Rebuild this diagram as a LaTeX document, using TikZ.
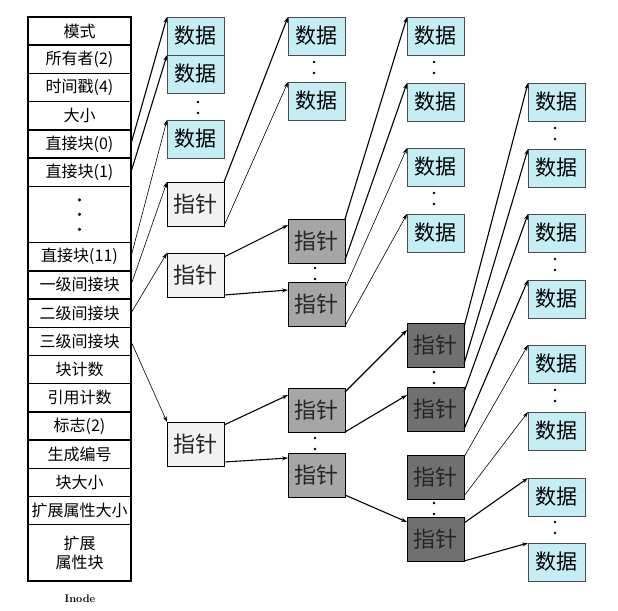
\documentclass[tikz,border=0pt]{standalone}
\usepackage{fontspec}
\newfontfamily\cjk{Noto Sans CJK SC}
\usepackage{tikz}
\usetikzlibrary{positioning,arrows.meta}
\definecolor{datacyan}{HTML}{C4EEF4}
\definecolor{ptrlight}{HTML}{F2F2F2}
\definecolor{ptrmid}{HTML}{A6A6A6}
\definecolor{ptrdark}{HTML}{707070}

\begin{document}
\begin{tikzpicture}[x=1pt, y=-1pt,
  every node/.style={font=\cjk, outer sep=0pt},
  inrow/.style={draw, line width=1.4pt, minimum width=103pt, minimum height=28.2pt,
                inner sep=0pt, align=center, font=\cjk\fontsize{16}{19}\selectfont},
  databox/.style={draw=black!70, fill=datacyan, minimum width=57pt, minimum height=38pt,
                  inner sep=0pt, anchor=north west, font=\cjk\fontsize{21}{21}\selectfont},
  ptrbox/.style={draw, fill=#1, minimum width=57pt, minimum height=44pt, inner sep=0pt,
                 anchor=north west, text=black!85, font=\cjk\fontsize{22}{22}\selectfont},
  arr/.style={-{Stealth[length=6pt,width=4pt]}, line width=1.1pt},
  tarr/.style={-{Stealth[length=6pt,width=4pt]}, line width=0.6pt}]
\useasboundingbox (0,0) rectangle (618,610);

%% Inode table
\node[inrow, anchor=north west] (mode) at (28,17) {模式};
\node[inrow, below=0pt of mode]   (owner)  {所有者(2)};
\node[inrow, below=0pt of owner]  (stamp)  {时间戳(4)};
\node[inrow, below=0pt of stamp]  (size)   {大小};
\node[inrow, below=0pt of size]   (d0)     {直接块(0)};
\node[inrow, below=0pt of d0]     (d1)     {直接块(1)};
\node[inrow, below=0pt of d1, minimum height=56.4pt] (gap) {};
\node[inrow, below=0pt of gap]    (d11)    {直接块(11)};
\node[inrow, below=0pt of d11]    (ind1)   {一级间接块};
\node[inrow, below=0pt of ind1]   (ind2)   {二级间接块};
\node[inrow, below=0pt of ind2]   (ind3)   {三级间接块};
\node[inrow, below=0pt of ind3]   (bcount) {块计数};
\node[inrow, below=0pt of bcount] (refs)   {引用计数};
\node[inrow, below=0pt of refs]   (flags)  {标志(2)};
\node[inrow, below=0pt of flags]  (gen)    {生成编号};
\node[inrow, below=0pt of gen]    (bsize)  {块大小};
\node[inrow, below=0pt of bsize]  (xsize)  {扩展属性大小};
\node[inrow, below=0pt of xsize, minimum height=56.4pt] (xblock) {扩展\\属性块};
\node[font=\rmfamily\bfseries\fontsize{11}{11}\selectfont] (caption) at (80,599) {Inode};

\foreach \dy in {14.5,0,-15}{
  \fill ([yshift=\dy pt]gap.center) circle (1.7pt);
}

%% Column 1: direct data and first pointers
\node[databox] (a1) at (167,17)  {数据};
\node[databox] (a2) at (167,55)  {数据};
\node[databox] (a3) at (167,120) {数据};
\node[ptrbox=ptrlight] (p1) at (167,182) {指针};
\node[ptrbox=ptrlight] (p2) at (167,253) {指针};
\node[ptrbox=ptrlight] (p3) at (167,422) {指针};

%% Column 2
\node[databox] (b1) at (288,17) {数据};
\node[databox] (b2) at (288,82) {数据};
\node[ptrbox=ptrmid] (q1) at (288,219) {指针};
\node[ptrbox=ptrmid] (q2) at (288,282) {指针};
\node[ptrbox=ptrmid] (q3) at (288,388) {指针};
\node[ptrbox=ptrmid] (q4) at (288,453) {指针};

%% Column 3
\foreach \n/\y in {1/17,2/83,3/148,4/214}{
  \node[databox] (c\n) at (407,\y) {数据};
}
\node[ptrbox=ptrdark] (r1) at (407,323) {指针};
\node[ptrbox=ptrdark] (r2) at (407,387) {指针};
\node[ptrbox=ptrdark] (r3) at (407,455) {指针};
\node[ptrbox=ptrdark] (r4) at (407,517) {指针};

%% Column 4
\foreach \n/\y in {1/83,2/149,3/214,4/280,5/345,6/412,7/478,8/543}{
  \node[databox] (e\n) at (528,\y) {数据};
}

%% Gaps between boxes
\foreach \x/\y in {198/102,314/62,315/268,315/438,434/62,434/193,434/372,434/503,
                   555/128,555/259,555/390,555/522}{
  \fill (\x,\y) circle (1.3pt);
  \fill (\x,\y+11) circle (1.3pt);
}

%% Arrows from the inode
\draw[arr]  (d0.east)   -- (a1.north west);
\draw[arr]  (d1.east)   -- (a2.north west);
\draw[tarr] (d11.east)  -- (a3.north west);
\draw[tarr] (ind1.east) -- (p1.north west);
\draw[tarr] (ind2.east) -- (p2.north west);
\draw[tarr] (ind3.east) -- (p3.north west);

%% Arrows between columns
\draw[arr]  (p1.north east) -- (b1.north west);
\draw[tarr] (p1.south east) -- (b2.north west);
\draw[arr]  ([yshift=-4pt]p2.north east) -- ([yshift=-6pt]q1.north west);
\draw[arr]  ([yshift=2pt]p2.south east)  -- ([yshift=-8pt]q2.north west);
\draw[arr]  ([yshift=-3pt]p3.north east) -- ([yshift=-7pt]q3.north west);
\draw[arr]  ([yshift=4pt]p3.south east)  -- ([yshift=-5pt]q4.north west);

\draw[arr]  (q1.north east) -- (c1.north west);
\draw[arr]  ([yshift=3pt]q1.south east) -- (c2.north west);
\draw[tarr] ([yshift=-6pt]q2.north east) -- (c3.north west);
\draw[tarr] (q2.south east) -- (c4.north west);
\draw[arr]  ([yshift=-4pt]q3.north east) -- ([yshift=-7pt]r1.north west);
\draw[arr]  (q3.south east) -- ([yshift=-8pt]r2.north west);
\draw[arr]  ([yshift=2pt]q4.south east) -- ([yshift=-5pt]r4.north west);

\draw[arr]  ([yshift=-4pt]r1.north east) -- (e1.north west);
\draw[arr]  ([yshift=3pt]r1.south east)  -- (e2.north west);
\draw[arr]  ([yshift=-5pt]r2.north east) -- (e3.north west);
\draw[arr]  ([yshift=2pt]r2.south east)  -- (e4.north west);
\draw[tarr] ([yshift=-2pt]r3.north east) -- (e5.north west);
\draw[tarr] ([yshift=3pt]r3.south east)  -- (e6.north west);
\draw[arr]  ([yshift=-6pt]r4.north east) -- (e7.north west);
\draw[arr]  (r4.south east) -- (e8.north west);
\end{tikzpicture}
\end{document}
